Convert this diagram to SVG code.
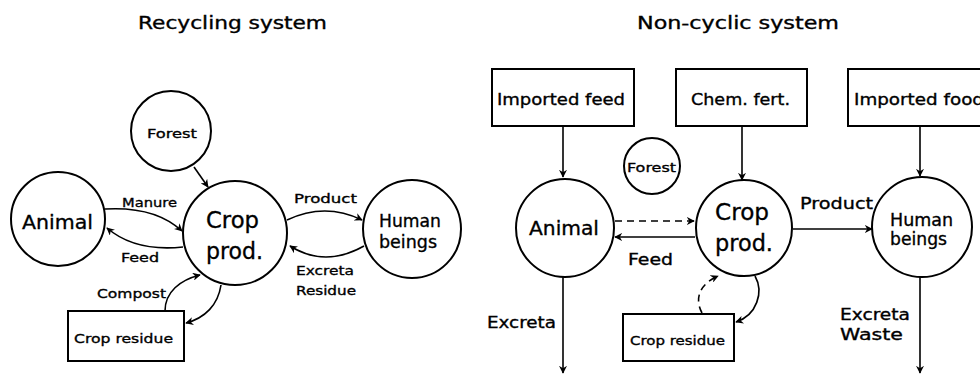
<svg xmlns="http://www.w3.org/2000/svg" width="980" height="374" viewBox="0 0 980 374">
<style>
text{font-family:"DejaVu Sans","Liberation Sans",sans-serif;fill:#000;stroke:#000;stroke-width:0.35}
.title{font-size:17px}
.big{font-size:23px}
.mid{font-size:20px}
.hum{font-size:18px}
.sm{font-size:13px}
.lbl{font-size:16px}
.node{fill:#fff;stroke:#000;stroke-width:2}
.c{fill:none;stroke:#000;stroke-width:1.6;marker-end:url(#ah)}
.d{stroke-dasharray:7 5}
</style>
<defs>
<marker id="ah" viewBox="0 0 10 10" refX="9" refY="5" markerWidth="8" markerHeight="8" markerUnits="userSpaceOnUse" orient="auto">
<path d="M0,0 L10,5 L0,10 L3,5 Z" fill="#000"/>
</marker>
</defs>
<rect width="980" height="374" fill="#fff"/>
<text class="title" x="138" y="29" textLength="189" lengthAdjust="spacingAndGlyphs">Recycling system</text>
<text class="title" x="637" y="29" textLength="202" lengthAdjust="spacingAndGlyphs">Non-cyclic system</text>

<g id="connectors">
<path class="c" d="M194,167 L208,187"/>
<path class="c" d="M105,209 Q155,206 182,231"/>
<path class="c" d="M183,247 Q135,252 107,228"/>
<path class="c" d="M287,220 Q325,202 362,220"/>
<path class="c" d="M364,246 Q325,268 290,246"/>
<path class="c" d="M165,311 C165,292 180,280 200,275"/>
<path class="c" d="M221,285 C218,305 205,318 186,323"/>

<path class="c" d="M563,126 L563,177"/>
<path class="c" d="M742,126 L742,180"/>
<path class="c" d="M920,126 L920,176"/>
<path class="c d" d="M615,221 L694,221"/>
<path class="c" d="M695,237 L615,237"/>
<path class="c" d="M793,229 L872,229"/>
<path class="c" d="M563,277 L563,373"/>
<path class="c" d="M920,277 L920,373"/>
<path class="c d" d="M702,313 C694,298 700,284 718,276"/>
<path class="c" d="M755,276 C764,292 757,315 736,322"/>
</g>

<g id="l-forest"><circle class="node" cx="171" cy="131" r="40"/><text class="sm" x="147" y="138" textLength="50" lengthAdjust="spacingAndGlyphs">Forest</text></g>
<g id="l-animal"><circle class="node" cx="58" cy="219" r="47"/><text class="mid" x="22" y="229" textLength="71" lengthAdjust="spacingAndGlyphs">Animal</text></g>
<g id="l-crop"><circle class="node" cx="235" cy="233" r="52"/><text class="big" x="206" y="228" textLength="53" lengthAdjust="spacingAndGlyphs">Crop</text><text class="big" x="206" y="259" textLength="57" lengthAdjust="spacingAndGlyphs">prod.</text></g>
<g id="l-human"><circle class="node" cx="412" cy="229" r="49"/><text class="hum" x="379" y="227" textLength="62" lengthAdjust="spacingAndGlyphs">Human</text><text class="hum" x="379" y="248" textLength="58" lengthAdjust="spacingAndGlyphs">beings</text></g>
<g id="l-residue"><rect class="node" x="68" y="311" width="116" height="50"/><text class="sm" x="74" y="343" textLength="99" lengthAdjust="spacingAndGlyphs">Crop residue</text></g>
<g id="l-labels">
<text class="sm" x="122" y="207" textLength="55" lengthAdjust="spacingAndGlyphs">Manure</text>
<text class="sm" x="121" y="262" textLength="38" lengthAdjust="spacingAndGlyphs">Feed</text>
<text class="sm" x="97" y="298" textLength="69" lengthAdjust="spacingAndGlyphs">Compost</text>
<text class="sm" x="294" y="203" textLength="63" lengthAdjust="spacingAndGlyphs">Product</text>
<text class="sm" x="296" y="275" textLength="58" lengthAdjust="spacingAndGlyphs">Excreta</text>
<text class="sm" x="296" y="295" textLength="60" lengthAdjust="spacingAndGlyphs">Residue</text>
</g>

<g id="r-impfeed"><rect class="node" x="492" y="69" width="142" height="57"/><text class="lbl" x="497" y="105" textLength="128" lengthAdjust="spacingAndGlyphs">Imported feed</text></g>
<g id="r-chem"><rect class="node" x="676" y="69" width="131" height="57"/><text class="lbl" x="691" y="105" textLength="99" lengthAdjust="spacingAndGlyphs">Chem. fert.</text></g>
<g id="r-impfood"><rect class="node" x="848" y="69" width="150" height="57"/><text class="lbl" x="854" y="105" textLength="130" lengthAdjust="spacingAndGlyphs">Imported food</text></g>
<g id="r-forest"><circle class="node" cx="652" cy="166" r="28"/><text class="sm" x="627" y="172" textLength="49" lengthAdjust="spacingAndGlyphs">Forest</text></g>
<g id="r-animal"><circle class="node" cx="565" cy="228" r="49"/><text class="mid" x="529" y="235" textLength="70" lengthAdjust="spacingAndGlyphs">Animal</text></g>
<g id="r-crop"><circle class="node" cx="744" cy="228" r="48"/><text class="big" x="715" y="220" textLength="54" lengthAdjust="spacingAndGlyphs">Crop</text><text class="big" x="715" y="251" textLength="58" lengthAdjust="spacingAndGlyphs">prod.</text></g>
<g id="r-human"><circle class="node" cx="922" cy="227" r="50"/><text class="hum" x="890" y="226" textLength="63" lengthAdjust="spacingAndGlyphs">Human</text><text class="hum" x="890" y="245" textLength="57" lengthAdjust="spacingAndGlyphs">beings</text></g>
<g id="r-residue"><rect class="node" x="623" y="314" width="111" height="47"/><text class="sm" x="630" y="345" textLength="95" lengthAdjust="spacingAndGlyphs">Crop residue</text></g>
<g id="r-labels">
<text class="lbl" x="800" y="209" textLength="73" lengthAdjust="spacingAndGlyphs">Product</text>
<text class="lbl" x="628" y="265" textLength="45" lengthAdjust="spacingAndGlyphs">Feed</text>
<text class="lbl" x="487" y="328" textLength="69" lengthAdjust="spacingAndGlyphs">Excreta</text>
<text class="lbl" x="840" y="320" textLength="70" lengthAdjust="spacingAndGlyphs">Excreta</text>
<text class="lbl" x="840" y="340" textLength="63" lengthAdjust="spacingAndGlyphs">Waste</text>
</g>
</svg>
